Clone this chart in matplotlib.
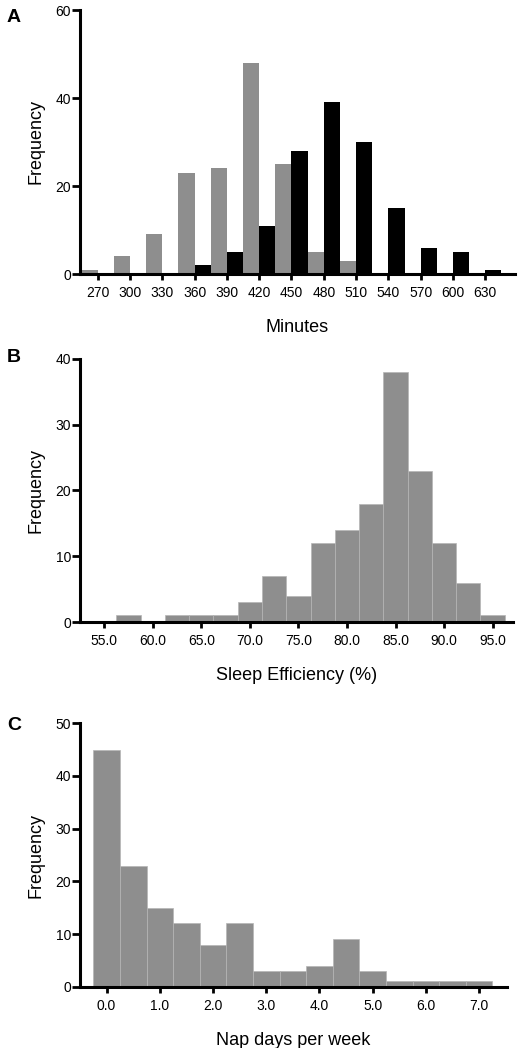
"""Three stacked histograms: sleep minutes (two groups), sleep efficiency, nap days."""

import matplotlib
matplotlib.use("Agg")
import matplotlib.pyplot as plt
import numpy as np

# Panel A: minutes, two groups side by side per bin
minutes = np.array([270, 300, 330, 360, 390, 420, 450, 480, 510, 540, 570, 600, 630])
grey_counts = [1, 4, 9, 23, 24, 48, 25, 5, 3, 0, 0, 0, 0]
black_counts = [0, 0, 0, 2, 5, 11, 28, 39, 30, 15, 6, 5, 1]

# Panel B: sleep efficiency (%), bin centres and counts
efficiency = np.array([57.5, 60.0, 62.5, 65.0, 67.5, 70.0, 72.5, 75.0,
                       77.5, 80.0, 82.5, 85.0, 87.5, 90.0, 92.5, 95.0])
efficiency_counts = [1, 0, 1, 1, 1, 3, 7, 4, 12, 14, 18, 38, 23, 12, 6, 1]
efficiency_ticks = [55, 60, 65, 70, 75, 80, 85, 90, 95]

# Panel C: nap days per week
nap_days = np.array([0.0, 0.5, 1.0, 1.5, 2.0, 2.5, 3.0, 3.5,
                     4.0, 4.5, 5.0, 5.5, 6.0, 6.5, 7.0])
nap_counts = [45, 23, 15, 12, 8, 12, 3, 3, 4, 9, 3, 1, 1, 1, 1]
nap_ticks = [0, 1, 2, 3, 4, 5, 6, 7]

GREY = "#8e8e8e"
FONT = "Liberation Sans"

plt.rcParams["font.family"] = [FONT, "DejaVu Sans"]

W, H = 529, 1048
fig = plt.figure(figsize=(W / 100, H / 100), dpi=100)


def axes_px(left, top, right, bottom):
    return fig.add_axes([left / W, 1 - bottom / H, (right - left) / W, (bottom - top) / H])


def style(ax, xlabel):
    for side in ("top", "right"):
        ax.spines[side].set_visible(False)
    for side in ("left", "bottom"):
        ax.spines[side].set_linewidth(2.2)
    ax.tick_params(axis="x", direction="out", length=4.5, width=2, labelsize=10, pad=4)
    ax.tick_params(axis="y", direction="out", length=6, width=2, labelsize=10, pad=0.5)
    ax.set_ylabel("Frequency", fontsize=13, labelpad=8)
    ax.set_xlabel(xlabel, fontsize=13, labelpad=14)


# A
ax = axes_px(80, 10, 515, 274)
ax.bar(minutes - 7.5, grey_counts, width=15, color=GREY, linewidth=0)
ax.bar(minutes + 7.5, black_counts, width=15, color="black", linewidth=0)
ax.set_xlim(253.6, 657.6)
ax.set_ylim(0, 60)
ax.set_xticks(minutes)
ax.set_yticks([0, 20, 40, 60])
style(ax, "Minutes")

# B
ax = axes_px(80, 358.7, 513, 622)
ax.bar(efficiency, efficiency_counts, width=2.5, color=GREY,
       edgecolor="#b5b5b5", linewidth=0.5)
ax.set_xlim(52.5, 97.1)
ax.set_ylim(0, 40)
ax.set_xticks(efficiency_ticks)
ax.set_xticklabels([f"{t:.1f}" for t in efficiency_ticks])
ax.set_yticks([0, 10, 20, 30, 40])
style(ax, "Sleep Efficiency (%)")

# C
ax = axes_px(80, 723.3, 506.7, 986.7)
ax.bar(nap_days, nap_counts, width=0.5, color=GREY,
       edgecolor="#b5b5b5", linewidth=0.5)
ax.set_xlim(-0.5, 7.52)
ax.set_ylim(0, 50)
ax.set_xticks(nap_ticks)
ax.set_xticklabels([f"{t:.1f}" for t in nap_ticks])
ax.set_yticks([0, 10, 20, 30, 40, 50])
style(ax, "Nap days per week")

for label, y in (("A", 17), ("B", 357), ("C", 725)):
    fig.text(14 / W, 1 - y / H, label, fontsize=14, weight="bold",
             ha="center", va="center")

fig.savefig("out.png", dpi=100)
plt.close(fig)
